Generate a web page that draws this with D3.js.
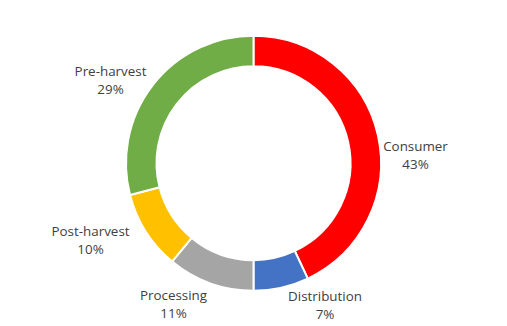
<!DOCTYPE html>
<html><head><meta charset="utf-8">
<script src="https://cdn.jsdelivr.net/npm/d3@7"></script>
<style>html,body{margin:0;padding:0;background:#fff;}svg{display:block;}</style>
</head><body>
<script>
const categories = ["Consumer", "Distribution", "Processing", "Post-harvest", "Pre-harvest"];
const shares = [43, 7, 11, 10, 29];
const percentLabels = ["43%", "7%", "11%", "10%", "29%"];
const sliceColors = ["#FF0000", "#4472C4", "#A5A5A5", "#FFC000", "#70AD47"];
// label placement relative to the donut centre (text layout only)
const labelOffsets = [[162, -8], [71.5, 142], [-80, 141], [-163, 77], [-143, -83.5]];

const W = 507, H = 326;
const cx = 253.5, cy = 163.2, outerR = 127.5, innerR = 97;

const svg = d3.select("body").append("svg").attr("width", W).attr("height", H);
const color = d3.scaleOrdinal().domain(categories).range(sliceColors);
const pie = d3.pie().sort(null).value(d => d.v);
const arc = d3.arc().innerRadius(innerR).outerRadius(outerR);
const data = categories.map((c, i) => ({c, v: shares[i], p: percentLabels[i], o: labelOffsets[i]}));

const g = svg.append("g").attr("transform", `translate(${cx},${cy})`);
g.selectAll("path").data(pie(data)).join("path")
  .attr("d", arc)
  .attr("fill", d => color(d.data.c))
  .attr("stroke", "#fff").attr("stroke-width", 2);

const lab = g.selectAll("text.lab").data(data).join("text")
  .attr("class", "lab")
  .attr("text-anchor", "middle")
  .attr("font-family", "'Open Sans', sans-serif")
  .attr("font-size", 13.4)
  .attr("fill", "#404040")
  .attr("transform", d => `translate(${d.o[0]},${d.o[1]})`);
lab.append("tspan").attr("x", 0).attr("y", -4).text(d => d.c);
lab.append("tspan").attr("x", 0).attr("y", 13.8).text(d => d.p);
</script>
</body></html>
